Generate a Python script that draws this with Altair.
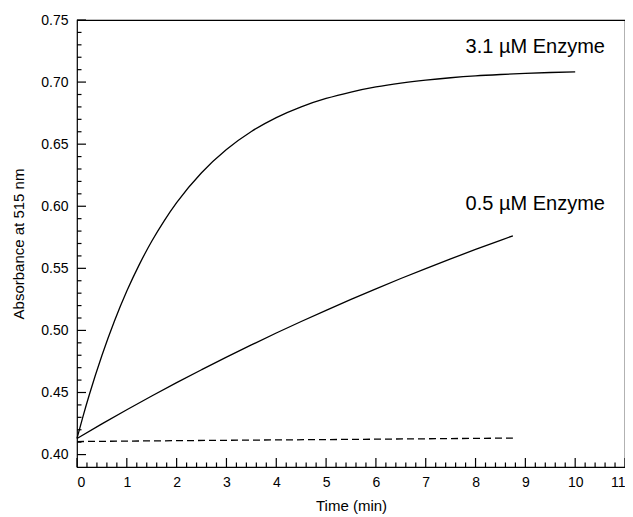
import altair as alt
import pandas as pd
import numpy as np

# ---- data ----
t_fast = [0, 0.125, 0.25, 0.5, 0.75, 1.0, 1.25, 1.5, 1.75, 2.0, 2.5, 3.0, 3.5, 4.0,
          4.5, 5.0, 5.5, 6.0, 6.5, 7.0, 7.5, 8.0, 8.5, 9.0, 9.5, 10.0]
a_fast = [0.413, 0.4314, 0.4486, 0.4798, 0.5074, 0.5317, 0.5530, 0.5718, 0.5883, 0.6029,
          0.6270, 0.6457, 0.6602, 0.6714, 0.6801, 0.6868, 0.6920, 0.6961, 0.6992,
          0.7016, 0.7035, 0.7050, 0.7061, 0.7070, 0.7077, 0.7082]

t_slow = [0, 0.5, 1.0, 1.5, 2.0, 2.5, 3.0, 3.5, 4.0, 4.5, 5.0, 5.5, 6.0, 6.5, 7.0,
          7.5, 8.0, 8.5, 8.75]
a_slow = [0.413, 0.4247, 0.4361, 0.4472, 0.4579, 0.4683, 0.4785, 0.4883, 0.4979,
          0.5072, 0.5162, 0.5250, 0.5335, 0.5418, 0.5498, 0.5576, 0.5652, 0.5726, 0.5762]

t_ctrl = [0, 2.0, 4.0, 6.0, 8.75]
a_ctrl = [0.4105, 0.4112, 0.4118, 0.4124, 0.4133]

x_major = [0, 1, 2, 3, 4, 5, 6, 7, 8, 9, 10, 11]
y_major = [0.40, 0.45, 0.50, 0.55, 0.60, 0.65, 0.70, 0.75]

x_minor = [round(v, 2) for v in np.arange(0, 11.001, 0.2) if abs(v - round(v)) > 1e-6]
y_minor = [round(v, 3) for v in np.arange(0.40, 0.7501, 0.01)
           if abs(v * 20 - round(v * 20)) > 1e-6]

FONT = "Liberation Sans"
W, H = 548, 447

df_fast = pd.DataFrame({"t": t_fast, "a": a_fast})
df_slow = pd.DataFrame({"t": t_slow, "a": a_slow})
df_ctrl = pd.DataFrame({"t": t_ctrl, "a": a_ctrl})

xs = alt.Scale(domain=[0, 11], nice=False, zero=False)
ys = alt.Scale(domain=[0.39, 0.75], nice=False, zero=False)

x_axis = alt.Axis(values=x_major, title="Time (min)", format="d", grid=False,
                  ticks=False, tickSize=0, domain=False, labelPadding=8,
                  labelFont=FONT, labelFontSize=14, labelColor="black",
                  titleFont=FONT, titleFontSize=15, titleFontWeight="normal",
                  titleColor="black", titlePadding=9)
y_axis = alt.Axis(values=y_major, title="Absorbance at 515 nm", format=".2f", grid=False,
                  ticks=False, tickSize=0, domain=False, labelPadding=9,
                  labelFont=FONT, labelFontSize=14, labelColor="black",
                  titleFont=FONT, titleFontSize=15, titleFontWeight="normal",
                  titleColor="black", titlePadding=14)

fast = alt.Chart(df_fast).mark_line(color="black", strokeWidth=1.3, interpolate="monotone").encode(
    x=alt.X("t:Q", scale=xs, axis=x_axis),
    y=alt.Y("a:Q", scale=ys, axis=y_axis),
)
slow = alt.Chart(df_slow).mark_line(color="black", strokeWidth=1.3, interpolate="monotone").encode(
    x=alt.X("t:Q", scale=xs),
    y=alt.Y("a:Q", scale=ys),
)
ctrl = alt.Chart(df_ctrl).mark_line(color="black", strokeWidth=1.3, strokeDash=[7, 4]).encode(
    x=alt.X("t:Q", scale=xs),
    y=alt.Y("a:Q", scale=ys),
)

# inward ticks
xmaj = alt.Chart(pd.DataFrame({"v": x_major})).mark_rule(color="black", strokeWidth=1.2).encode(
    x=alt.X("v:Q", scale=xs), y=alt.value(H), y2=alt.value(H - 9))
xmin = alt.Chart(pd.DataFrame({"v": x_minor})).mark_rule(color="black", strokeWidth=1.2).encode(
    x=alt.X("v:Q", scale=xs), y=alt.value(H), y2=alt.value(H - 4.5))
ymaj = alt.Chart(pd.DataFrame({"v": y_major})).mark_rule(color="black", strokeWidth=1.2).encode(
    y=alt.Y("v:Q", scale=ys), x=alt.value(0), x2=alt.value(9))
ymin = alt.Chart(pd.DataFrame({"v": y_minor})).mark_rule(color="black", strokeWidth=1.2).encode(
    y=alt.Y("v:Q", scale=ys), x=alt.value(0), x2=alt.value(4.5))

lab_fast = alt.Chart().mark_text(align="left", baseline="middle", font=FONT, fontSize=20,
                                 color="black").encode(
    x=alt.datum(7.8), y=alt.datum(0.7285), text=alt.value("3.1 µM Enzyme"))
lab_slow = alt.Chart().mark_text(align="left", baseline="middle", font=FONT, fontSize=20,
                                 color="black").encode(
    x=alt.datum(7.8), y=alt.datum(0.6015), text=alt.value("0.5 µM Enzyme"))

chart = alt.layer(fast, slow, ctrl, xmaj, xmin, ymaj, ymin, lab_fast, lab_slow).properties(
    width=W, height=H,
    autosize=alt.AutoSizeParams(type="none"),
    padding={"left": 69, "top": 12, "right": 0, "bottom": 48},
).configure(background="white").configure_view(stroke="black", strokeWidth=1.2)

chart.save("out.html", embed_options={"renderer": "svg", "actions": False})
